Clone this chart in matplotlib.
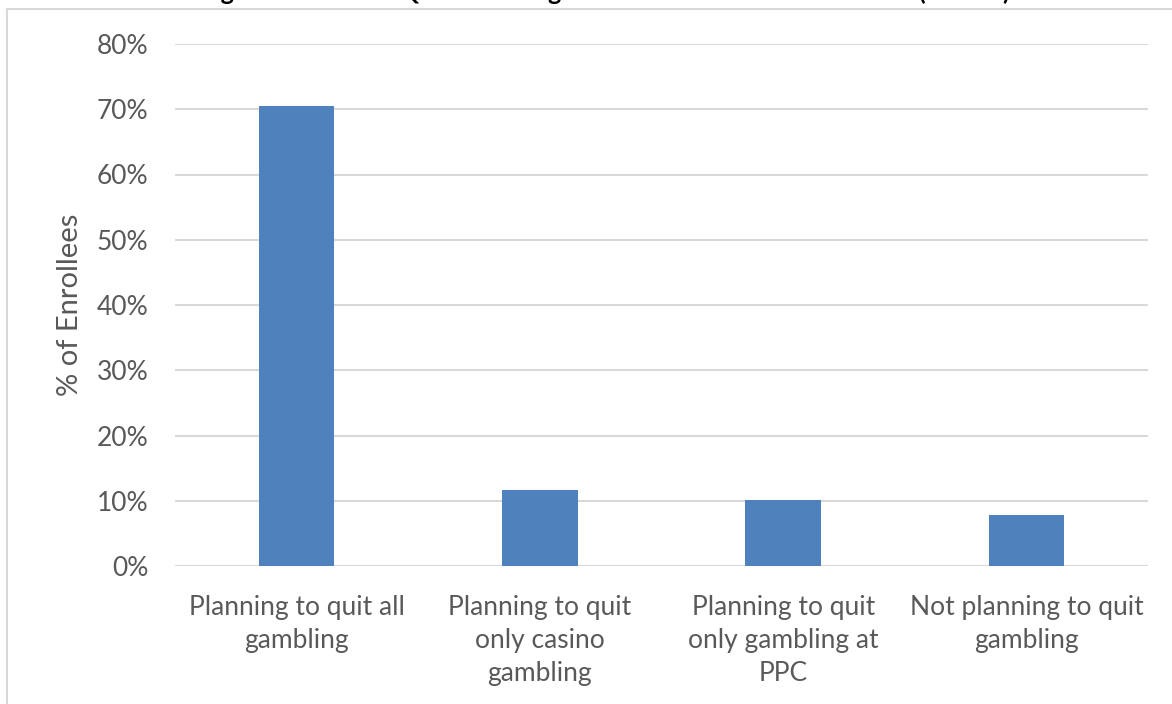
import matplotlib
matplotlib.use('Agg')
import matplotlib.pyplot as plt
from matplotlib.lines import Line2D
from matplotlib.ticker import PercentFormatter

categories = ['Planning to quit all\ngambling',
              'Planning to quit\nonly casino\ngambling',
              'Planning to quit\nonly gambling at\nPPC',
              'Not planning to quit\ngambling']
pct_enrollees = [70.5, 11.6, 10.1, 7.8]
y_ticks = [0, 10, 20, 30, 40, 50, 60, 70, 80]

TITLE = 'Figure 8. Plans to Quit Gambling after Self-Exclusion Enrollment (N=136)'
BAR_COLOR = '#4F81BD'
GRID_COLOR = '#d9d9d9'
TEXT_COLOR = '#595959'

plt.rcParams['font.family'] = ['Lato', 'DejaVu Sans']

W, H = 1172, 704
fig = plt.figure(figsize=(W / 100, H / 100), dpi=100, facecolor='white')
ax = fig.add_axes([175 / W, 1 - 566 / H, (1148 - 175) / W, (566 - 44) / H])

x = range(len(categories))
ax.bar(x, pct_enrollees, width=0.31, color=BAR_COLOR, zorder=3)

ax.set_xlim(-0.5, len(categories) - 0.5)
ax.set_ylim(0, 80)
ax.set_yticks(y_ticks)
ax.yaxis.set_major_formatter(PercentFormatter(decimals=0))
ax.set_xticks(list(x))
ax.set_xticklabels(categories, fontsize=19, color=TEXT_COLOR, linespacing=1.4)
ax.tick_params(axis='y', labelsize=19, labelcolor=TEXT_COLOR, length=0, pad=19)
ax.tick_params(axis='x', length=0, pad=21)
ax.grid(axis='y', color=GRID_COLOR, lw=1.5, zorder=0)
for spine in ax.spines.values():
    spine.set_visible(False)
ax.axhline(0, color=GRID_COLOR, lw=1.5, zorder=2)

ax.set_ylabel('% of Enrollees', fontsize=21, color=TEXT_COLOR, labelpad=10)

# chart-area border, cut off by the image edges
top = 1 - 9 / H
left = 7 / W
fig.add_artist(Line2D([left, 1], [top, top], transform=fig.transFigure,
                      color=GRID_COLOR, lw=1.5))
fig.add_artist(Line2D([left, left], [0, top], transform=fig.transFigure,
                      color=GRID_COLOR, lw=1.5))

# title, mostly cropped off the top of the image (as in the source)
fig.text(605 / W, 1 - 0.5 / H, TITLE, fontsize=18, fontweight='bold',
         color='black', ha='center', va='baseline')

fig.savefig('out.png', dpi=100, facecolor='white')
